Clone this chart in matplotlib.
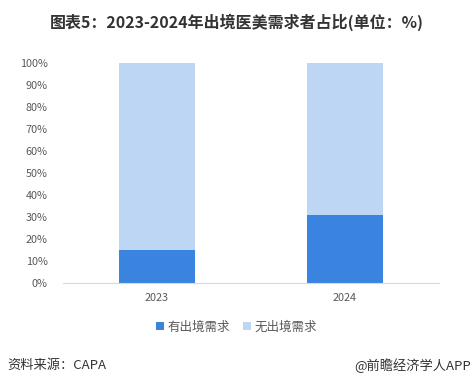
import matplotlib.pyplot as plt
import numpy as np

plt.rcParams['font.family'] = ['Noto Sans CJK SC', 'DejaVu Sans']

years = ['2023', '2024']
has_demand = [15, 31]
no_demand = [85, 69]
labels = ['有出境需求', '无出境需求']
colors = ['#3A84E0', '#BDD6F4']

fig = plt.figure(figsize=(4.73, 3.88), dpi=100)
ax = fig.add_axes([0.133, 0.271, 0.795, 0.567])

x = np.arange(len(years))
ax.bar(x, has_demand, width=0.4, color=colors[0], label=labels[0])
ax.bar(x, no_demand, width=0.4, bottom=has_demand, color=colors[1], label=labels[1])

ax.set_xlim(-0.5, 1.5)
ax.set_ylim(0, 100)
ax.set_yticks(range(0, 101, 10))
ax.set_yticklabels([f'{v}%' for v in range(0, 101, 10)])
ax.set_xticks(x)
ax.set_xticklabels(years)
ax.tick_params(axis='both', length=0, labelsize=7.8, colors='#595959')
ax.tick_params(axis='y', pad=11)
ax.tick_params(axis='x', pad=7)
for s in ['top', 'right', 'left']:
    ax.spines[s].set_visible(False)
ax.spines['bottom'].set_color('#D9D9D9')

fig.text(0.5, 0.943, '图表5：2023-2024年出境医美需求者占比(单位：%)', ha='center', va='center',
         fontsize=11.5, fontweight='bold', color='#333333')

fig.legend(loc='center', bbox_to_anchor=(0.5, 0.157), ncol=2, frameon=False,
           fontsize=9, handlelength=0.65, handleheight=0.65, handletextpad=0.3,
           columnspacing=1.0, labelcolor='#595959')

fig.text(0.015, 0.057, '资料来源：CAPA', ha='left', va='center', fontsize=9.5, color='#333333')
fig.text(0.995, 0.057, '@前瞻经济学人APP', ha='right', va='center', fontsize=9.5, color='#333333')

fig.savefig('out.png', dpi=100)
